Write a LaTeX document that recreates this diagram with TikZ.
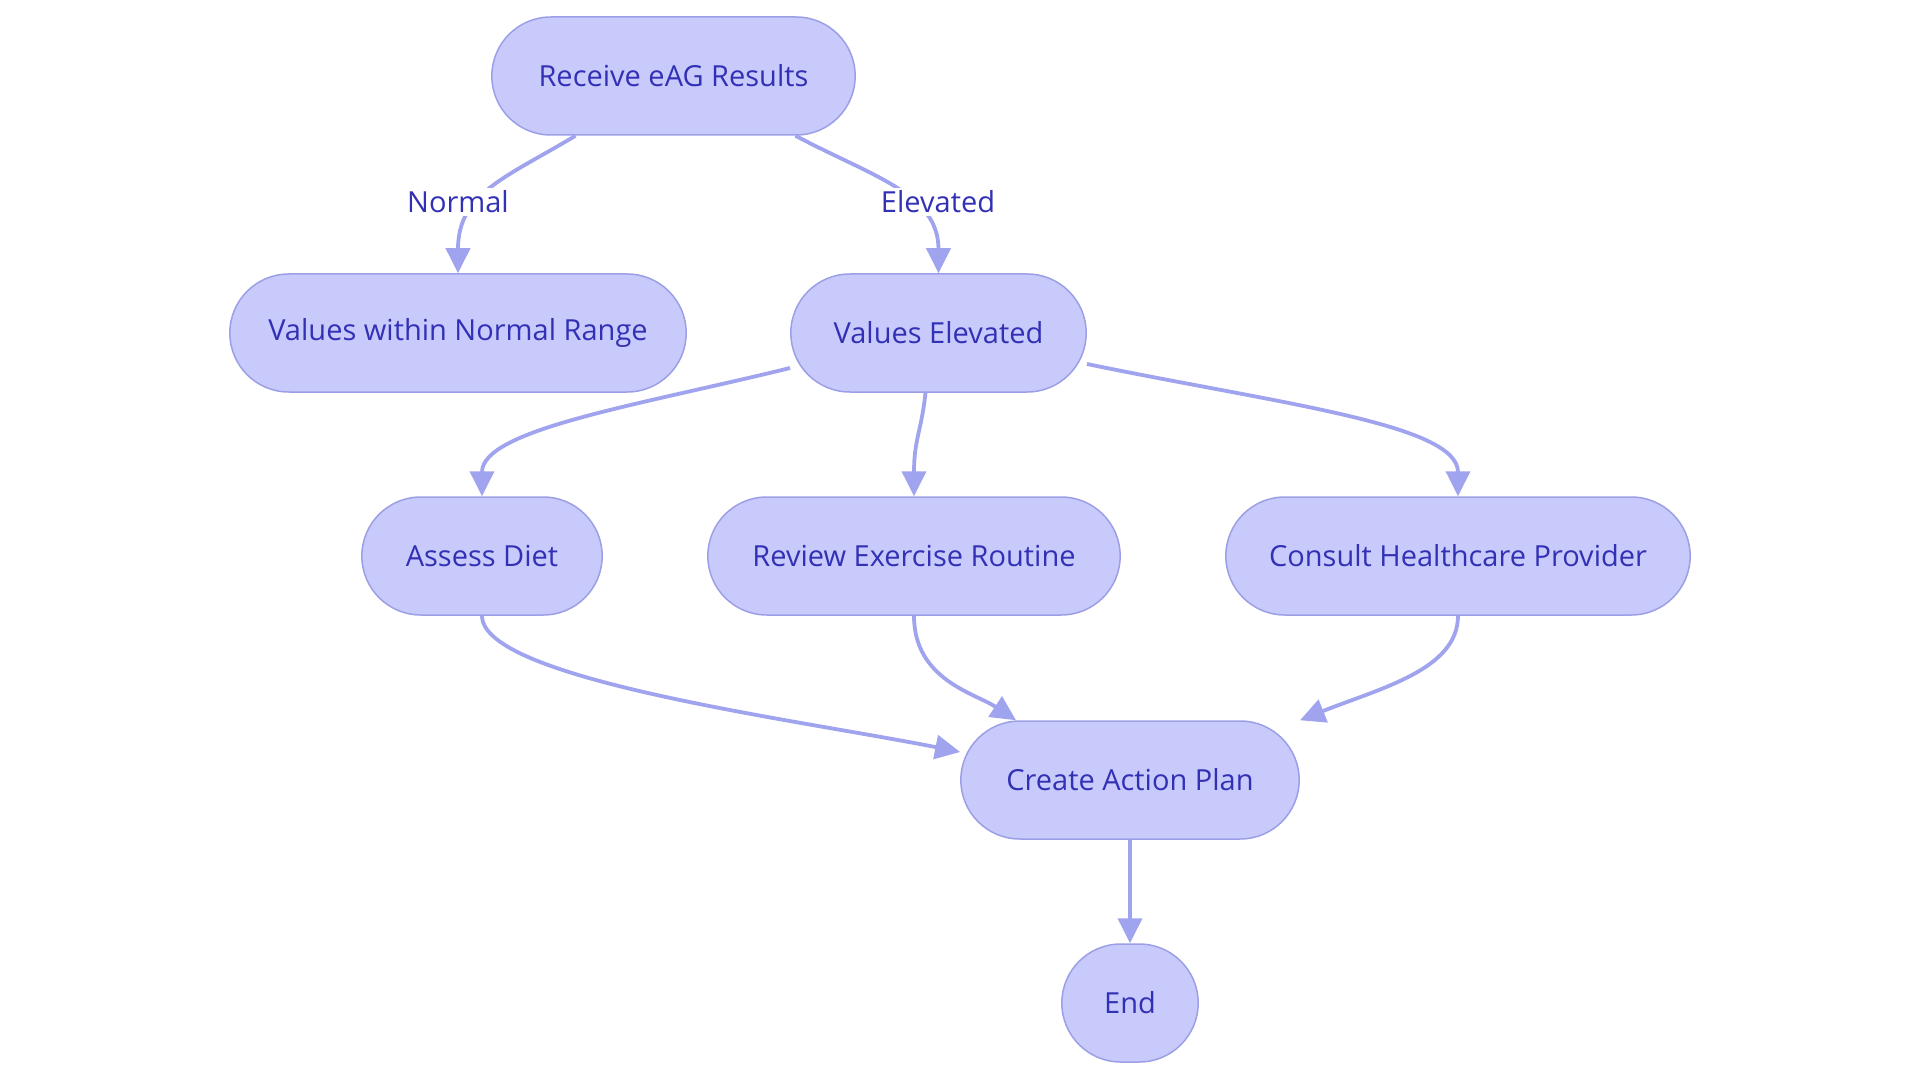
\documentclass[tikz,border=0pt]{standalone}
\usepackage{fontspec}
\setmainfont{Open Sans}
\usepackage{tikz}
\usetikzlibrary{arrows.meta,shapes.misc}
\definecolor{pillfill}{HTML}{C8CAFC}
\definecolor{pillline}{HTML}{9C9FE6}
\definecolor{edgeline}{HTML}{A0A3EE}
\definecolor{txtblue}{HTML}{3230B4}

\begin{document}
\begin{tikzpicture}[x=1pt,y=-1pt]
\tikzstyle{pill} = [rounded rectangle, minimum height=118pt, text centered, draw=pillline, line width=1.5pt, fill=pillfill, text=txtblue, font=\fontsize{29}{34}\selectfont]
\tikzstyle{edgelabel} = [fill=white, text=txtblue, inner sep=3pt, font=\fontsize{29}{34}\selectfont]
\tikzstyle{arrow} = [line width=3.8pt, draw=edgeline, -{Triangle[length=25pt,width=24pt]}]

\fill[white] (0,0) rectangle (1920,1083);

%nodes
\node (rec) [pill, minimum width=370pt] at (673.5,76) {Receive eAG Results};
\node (nor) [pill, minimum width=463pt] at (458,333) {Values within Normal Range};
\node (elev) [pill, minimum width=302pt] at (938.5,333) {Values Elevated};
\node (diet) [pill, minimum width=247pt] at (482,556) {Assess Diet};
\node (rev) [pill, minimum width=419pt] at (914,556) {Review Exercise Routine};
\node (prov) [pill, minimum width=471pt] at (1458,556) {Consult Healthcare Provider};
\node (cre) [pill, minimum width=345pt] at (1130,780) {Create Action Plan};
\node (end) [pill, minimum width=143pt] at (1130,1003) {End};

%arrows
\draw [arrow] ([xshift=-98pt]rec.south) .. controls +(-70,42) and +(0,-80) .. (nor.north);
\draw [arrow] ([xshift=122pt]rec.south) .. controls +(75,40) and +(0,-80) .. (elev.north);
\draw [arrow] ([yshift=-35pt]elev.west) .. controls +(-150,37) and +(0,-67) .. (diet.north);
\draw [arrow] ([xshift=-13pt]elev.south) .. controls +(-4,38) and +(0,-57) .. (rev.north);
\draw [arrow] ([yshift=-31pt]elev.east) .. controls +(194,40) and +(0,-72) .. (prov.north);
\draw [arrow] (diet.south) .. controls +(0,64) and +(-160,-32) .. ([yshift=28pt]cre.west);
\draw [arrow] (rev.south) .. controls +(0,64) and +(-41,-27) .. ([xshift=-114pt]cre.north);
\draw [arrow] (prov.south) .. controls +(0,54) and +(80,-32) .. ([xshift=170pt]cre.north);
\draw [arrow] (cre.south) -- (end.north);

%labels
\node (lnormal) [edgelabel] at (458,202) {Normal};
\node (lelev) [edgelabel] at (938,202) {Elevated};
\end{tikzpicture}
\end{document}
